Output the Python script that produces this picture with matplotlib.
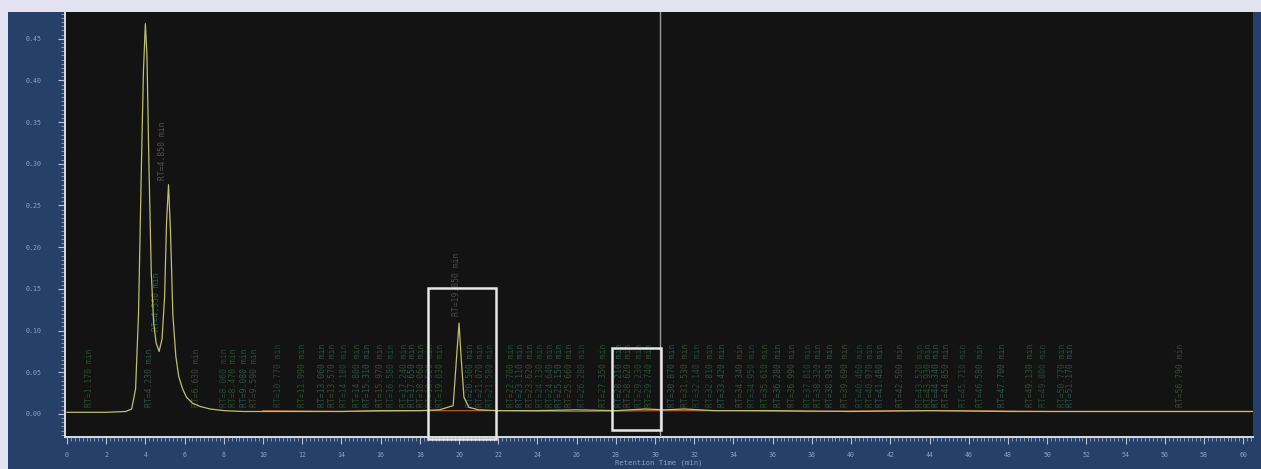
import matplotlib
matplotlib.use("Agg")
import matplotlib.pyplot as plt
from matplotlib.patches import Rectangle
from matplotlib.ticker import MultipleLocator

# Chromatogram trace (retention time in min, detector response)
time_main = [0.0, 1.0, 2.0, 3.0, 3.3, 3.5, 3.65, 3.8, 3.9, 4.0, 4.08, 4.18, 4.3,
             4.42, 4.55, 4.7, 4.85, 4.98, 5.08, 5.18, 5.28, 5.4, 5.55, 5.7, 5.9,
             6.1, 6.4, 6.8, 7.3, 8.0, 9.0, 10.0, 12.0, 14.0, 16.0, 18.0, 19.0,
             19.7, 19.85, 20.0, 20.1, 20.25, 20.5, 21.0, 22.0, 24.0, 26.0, 28.0,
             29.5, 30.5, 31.5, 33.0, 36.0, 40.0, 44.0, 48.0, 52.0, 56.0, 60.5]
signal_main = [0.002, 0.002, 0.002, 0.003, 0.006, 0.03, 0.12, 0.30, 0.41, 0.468,
               0.43, 0.30, 0.17, 0.11, 0.085, 0.075, 0.09, 0.14, 0.23, 0.275,
               0.22, 0.12, 0.07, 0.045, 0.03, 0.02, 0.013, 0.009, 0.006, 0.004,
               0.003, 0.003, 0.003, 0.003, 0.004, 0.004, 0.005, 0.01, 0.06,
               0.109, 0.07, 0.02, 0.008, 0.005, 0.004, 0.004, 0.005, 0.004,
               0.006, 0.005, 0.006, 0.004, 0.004, 0.003, 0.004, 0.003, 0.003,
               0.003, 0.003]

# Second detector channel, baseline only
time_second = [10.0, 14.0, 18.0, 22.0, 26.0, 30.0, 34.0, 38.0, 42.0, 46.0,
               50.0, 54.0, 58.0, 60.5]
signal_second = [0.004, 0.003, 0.004, 0.004, 0.003, 0.004, 0.004, 0.003,
                 0.004, 0.004, 0.003, 0.003, 0.003, 0.003]

# Integrated peaks with a vertical annotation
peak_label_rt = [1.17, 4.23, 6.63, 8.06, 8.47, 9.08, 9.59, 10.77, 11.99, 13.06,
                 13.57, 14.18, 14.80, 15.31, 15.97, 16.58, 17.24, 17.65, 18.06,
                 18.52, 19.03, 20.56, 21.07, 21.58, 22.70, 23.11, 23.62, 24.13,
                 24.64, 25.15, 25.66, 26.28, 27.35, 28.21, 28.62, 29.23, 29.74,
                 30.87, 31.53, 32.14, 32.81, 33.42, 34.34, 34.95, 35.61, 36.28,
                 36.99, 37.81, 38.32, 38.93, 39.69, 40.46, 40.97, 41.48, 42.50,
                 43.52, 43.93, 44.34, 44.85, 45.71, 46.58, 47.70, 49.13, 49.80,
                 50.77, 51.17, 56.79]
peak_label_base = [0.008] * len(peak_label_rt)
apex_label_rt = [4.55, 4.85, 19.85]
apex_label_base = [0.10, 0.28, 0.118]

# Highlighted regions (t_start, t_end, y_low, y_high)
box_regions = [(18.4, 21.9, -0.03, 0.151), (27.8, 30.3, -0.019, 0.079)]
cursor_rt = 30.25

x_ticks = list(range(0, 61, 2))
y_ticks = [0.00, 0.05, 0.10, 0.15, 0.20, 0.25, 0.30, 0.35, 0.40, 0.45]

W, H = 1261, 469
fig = plt.figure(figsize=(W / 100, H / 100), dpi=100, facecolor="#e2e2f0")

# Blue instrument panel behind the plot
panel = fig.add_axes([8 / W, 0, 1 - 8 / W, 1 - 12 / H], zorder=0)
panel.set_facecolor("#26406a")
panel.set_xticks([])
panel.set_yticks([])
for sp in panel.spines.values():
    sp.set_visible(False)

ax = fig.add_axes([65 / W, 1 - 437 / H, (1253 - 65) / W, (437 - 12) / H],
                  zorder=1)
ax.set_facecolor("#131313")
ax.set_xlim(-0.1, 60.5)
ax.set_ylim(-0.0276, 0.482)

label_colors = ["#2a5a34", "#2f5e54", "#42523c", "#24503a"]
mono = "DejaVu Sans Mono"
for i, (rt, base) in enumerate(zip(peak_label_rt, peak_label_base)):
    ax.text(rt, base, f"RT={rt:.3f} min", rotation=90, ha="center",
            va="bottom", fontsize=5.8, family=mono,
            color=label_colors[i % len(label_colors)], alpha=0.85, zorder=2)
for i, (rt, base) in enumerate(zip(apex_label_rt, apex_label_base)):
    ax.text(rt, base, f"RT={rt:.3f} min", rotation=90, ha="center",
            va="bottom", fontsize=5.8, family=mono,
            color=["#336a5a", "#5a5f5a", "#4c5650"][i], alpha=0.85, zorder=2)

ax.plot(time_second, signal_second, color="#b45a2c", lw=0.9, zorder=3)
ax.plot(time_main, signal_main, color="#bcbf74", lw=0.9, zorder=4)

ax.axvline(cursor_rt, color="#9a9a9a", lw=1.0, zorder=5)
for t0, t1, y0, y1 in box_regions:
    ax.add_patch(Rectangle((t0, y0), t1 - t0, y1 - y0, fill=False,
                           edgecolor="#e6e6e6", lw=1.8, zorder=6,
                           clip_on=False))

ax.set_xticks(x_ticks)
ax.set_xticklabels([str(v) for v in x_ticks])
ax.set_yticks(y_ticks)
ax.set_yticklabels([f"{v:.2f}" for v in y_ticks])
ax.xaxis.set_minor_locator(MultipleLocator(0.2))
ax.yaxis.set_minor_locator(MultipleLocator(0.005))

ax.tick_params(axis="both", which="major", colors="#b8c2d6",
               labelcolor="#8fa2c0", labelsize=4.8, length=5, width=0.8)
ax.tick_params(axis="both", which="minor", colors="#9aa8c0", length=3,
               width=0.6)
ax.tick_params(axis="y", which="major", pad=12)
ax.tick_params(axis="x", which="major", pad=6)
for lab in ax.get_xticklabels() + ax.get_yticklabels():
    lab.set_family(mono)

for side in ("top", "right"):
    ax.spines[side].set_visible(False)
for side in ("left", "bottom"):
    ax.spines[side].set_color("#d8dce4")
    ax.spines[side].set_linewidth(1.4)

ax.set_xlabel("Retention Time (min)", fontsize=5.2, family=mono,
              color="#8fa2c0", labelpad=1)

fig.savefig("out.png", dpi=100, facecolor=fig.get_facecolor())
